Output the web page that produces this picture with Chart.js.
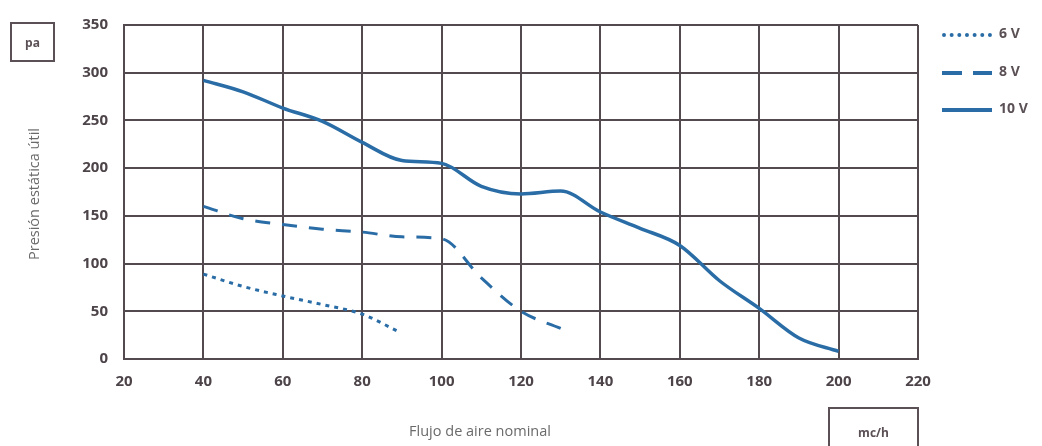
<!DOCTYPE html>
<html lang="es">
<head>
    <meta charset="UTF-8">
    <title>Curvas de presión</title>
    <script src="https://cdn.jsdelivr.net/npm/chart.js"></script>
    <style>
        html, body { margin: 0; padding: 0; background: #fff; }
        .wrap { position: relative; width: 1042px; height: 446px; overflow: hidden; }
        .unit-box {
            position: absolute;
            border: 2px solid #5a5055;
            box-sizing: border-box;
            font-family: 'Open Sans', sans-serif;
            font-weight: 700;
            font-size: 12px;
            color: #5a5055;
            display: flex; align-items: center; justify-content: center;
        }
        .legend { position: absolute; left: 942px; top: 0; font-family: 'Open Sans', sans-serif; }
        .legend .item { position: absolute; left: 0; width: 100px; height: 16px; }
        .legend .mark { position: absolute; left: 0; top: 6px; width: 50px; height: 0; }
        .legend .lbl { position: absolute; left: 57px; top: -4px; font-size: 14px; font-weight: 700; color: #5a5055; white-space: nowrap; }
    </style>
</head>
<body>
<div class="wrap">
    <canvas id="curvas" width="1042" height="446"></canvas>
    <div class="unit-box" style="left:10px;top:22px;width:45px;height:40px;">pa</div>
    <div class="unit-box" style="left:828px;top:407px;width:91px;height:50px;">mc/h</div>
    <div class="legend" id="leyenda"></div>
</div>
<script>
// datos
const flujo6 = [40, 50, 60, 70, 80, 89];
const presion6 = [89, 76, 66, 57, 47, 29];

const flujo8 = [40, 50, 60, 70, 80, 90, 100, 110, 120, 130];
const presion8 = [160, 147, 141, 136, 133, 128, 126, 85, 50, 32];

const flujo10 = [40, 50, 60, 70, 80, 90, 100, 110, 120, 130, 140, 150, 160, 170, 180, 190, 200];
const presion10 = [292, 280, 263, 249, 227, 208, 205, 181, 173, 176, 154, 137, 119, 82, 53, 22, 8];

const ticksX = [20, 40, 60, 80, 100, 120, 140, 160, 180, 200, 220];
const ticksY = [0, 50, 100, 150, 200, 250, 300, 350];

const azul = '#2a6da6';
const rejilla = '#524a4e';

function puntos(xs, ys) {
    return xs.map((x, i) => ({ x: x, y: ys[i] }));
}

const series = [
    { label: '6 V', data: puntos(flujo6, presion6), dash: [4, 5], width: 3, legendStyle: 'dotted' },
    { label: '8 V', data: puntos(flujo8, presion8), dash: [15, 12], width: 3, legendStyle: 'dashed' },
    { label: '10 V', data: puntos(flujo10, presion10), dash: [], width: 3.5, legendStyle: 'solid' }
];

// leyenda a la derecha
const leyenda = document.getElementById('leyenda');
const legendTops = [27, 65, 102];
series.forEach((s, i) => {
    const item = document.createElement('div');
    item.className = 'item';
    item.style.top = legendTops[i] + 'px';
    let mark;
    if (s.legendStyle === 'dotted') {
        mark = '<div class="mark" style="border-top:4px dotted ' + azul + ';"></div>';
    } else if (s.legendStyle === 'dashed') {
        mark = '<div class="mark" style="width:20px;border-top:4px solid ' + azul + ';"></div>' +
               '<div class="mark" style="left:31px;width:19px;border-top:4px solid ' + azul + ';"></div>';
    } else {
        mark = '<div class="mark" style="border-top:4px solid ' + azul + ';"></div>';
    }
    item.innerHTML = mark + '<div class="lbl">' + s.label + '</div>';
    leyenda.appendChild(item);
});

// títulos de ejes
const titulosEjes = {
    id: 'titulosEjes',
    afterDraw(chart) {
        const ctx = chart.ctx;
        ctx.save();
        ctx.fillStyle = '#6a6a6a';
        ctx.font = '14.5px "Open Sans", sans-serif';
        ctx.textAlign = 'center';
        ctx.textBaseline = 'middle';
        ctx.fillText('Flujo de aire nominal', 480, 432);
        ctx.translate(35, 194);
        ctx.rotate(-Math.PI / 2);
        ctx.fillText('Presión estática útil', 0, 0);
        ctx.restore();
    }
};

const fuenteTicks = { family: '"Open Sans", sans-serif', size: 15, weight: 'bold' };

const ctx = document.getElementById('curvas').getContext('2d');
new Chart(ctx, {
    type: 'line',
    data: {
        datasets: series.map(s => ({
            label: s.label,
            data: s.data,
            borderColor: azul,
            backgroundColor: azul,
            borderWidth: s.width,
            borderDash: s.dash,
            pointRadius: 0,
            cubicInterpolationMode: 'monotone',
            fill: false
        }))
    },
    options: {
        responsive: false,
        animation: false,
        layout: { padding: { top: 19, right: 124, left: 0, bottom: 0 } },
        plugins: {
            legend: { display: false },
            tooltip: { enabled: false }
        },
        scales: {
            x: {
                type: 'linear',
                min: 20,
                max: 220,
                afterBuildTicks: axis => { axis.ticks = ticksX.map(v => ({ value: v })); },
                afterFit: axis => { axis.height = 87; },
                grid: { color: rejilla, lineWidth: 2, drawTicks: false },
                border: { color: rejilla, width: 2 },
                ticks: { padding: 14, color: '#4d4449', font: fuenteTicks }
            },
            y: {
                min: 0,
                max: 350,
                afterBuildTicks: axis => { axis.ticks = ticksY.map(v => ({ value: v })); },
                afterFit: axis => { axis.width = 124; },
                grid: { color: rejilla, lineWidth: 2, drawTicks: false },
                border: { color: rejilla, width: 2 },
                ticks: { padding: 16, color: '#4d4449', font: fuenteTicks }
            }
        }
    },
    plugins: [titulosEjes]
});
</script>
</body>
</html>
